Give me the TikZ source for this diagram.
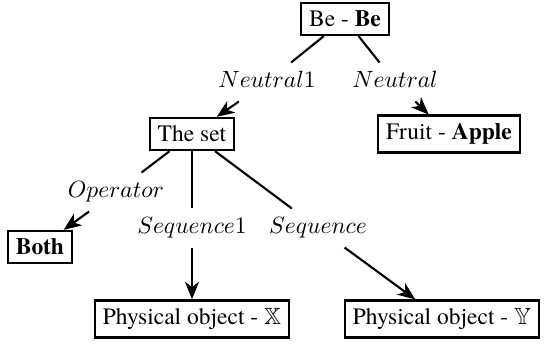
\documentclass[tikz,border=0pt]{standalone}
\usepackage{amssymb}
\usepackage{fontspec}
\setmainfont{texgyretermes}[Extension=.otf,UprightFont=*-regular,BoldFont=*-bold,ItalicFont=*-italic,BoldItalicFont=*-bolditalic]
\usetikzlibrary{arrows.meta}
\begin{document}
\begin{tikzpicture}[x=0.4255pt,y=-0.4255pt,
  box/.style={draw,line width=1pt,inner sep=3.33pt},
  lbl/.style={inner xsep=2pt,inner ysep=3.7pt,text height=6.8pt,text depth=2pt},
  edge/.style={line width=0.9pt},
  arr/.style={line width=0.9pt,-{Stealth[length=7.5pt,width=6pt,inset=2.2pt]}}]
\useasboundingbox (0,0) rectangle (549,347);
\node[box] (be) at (345,19) {Be - \textbf{Be}};
\node[box] (set) at (192,134) {The set};
\node[box] (fruit) at (449,134) {Fruit - \textbf{Apple}};
\node[box] (both) at (40,247) {\textbf{Both}};
\node[box] (px) at (192,319) {Physical object - $\mathbb{X}$};
\node[box] (py) at (442,319) {Physical object - $\mathbb{Y}$};
\node[lbl] (n1) at (267,82) {$Neutral1$};
\node[lbl] (n) at (395,82) {$Neutral$};
\node[lbl] (op) at (116,192) {$Operator$};
\node[lbl] (s1) at (192,228) {$Sequence1$};
\node[lbl] (s) at (318,228) {$Sequence$};
\draw[edge] (be) -- (n1);
\draw[arr] (n1) -- (set);
\draw[edge] (be) -- (n);
\draw[arr] (n) -- (fruit);
\draw[edge] (set) -- (op);
\draw[arr] (op) -- (both);
\draw[edge] (set) -- (s1);
\draw[arr] (s1) -- (px);
\draw[edge] (set) -- (s);
\draw[arr] (s) -- (py);
\end{tikzpicture}
\end{document}
